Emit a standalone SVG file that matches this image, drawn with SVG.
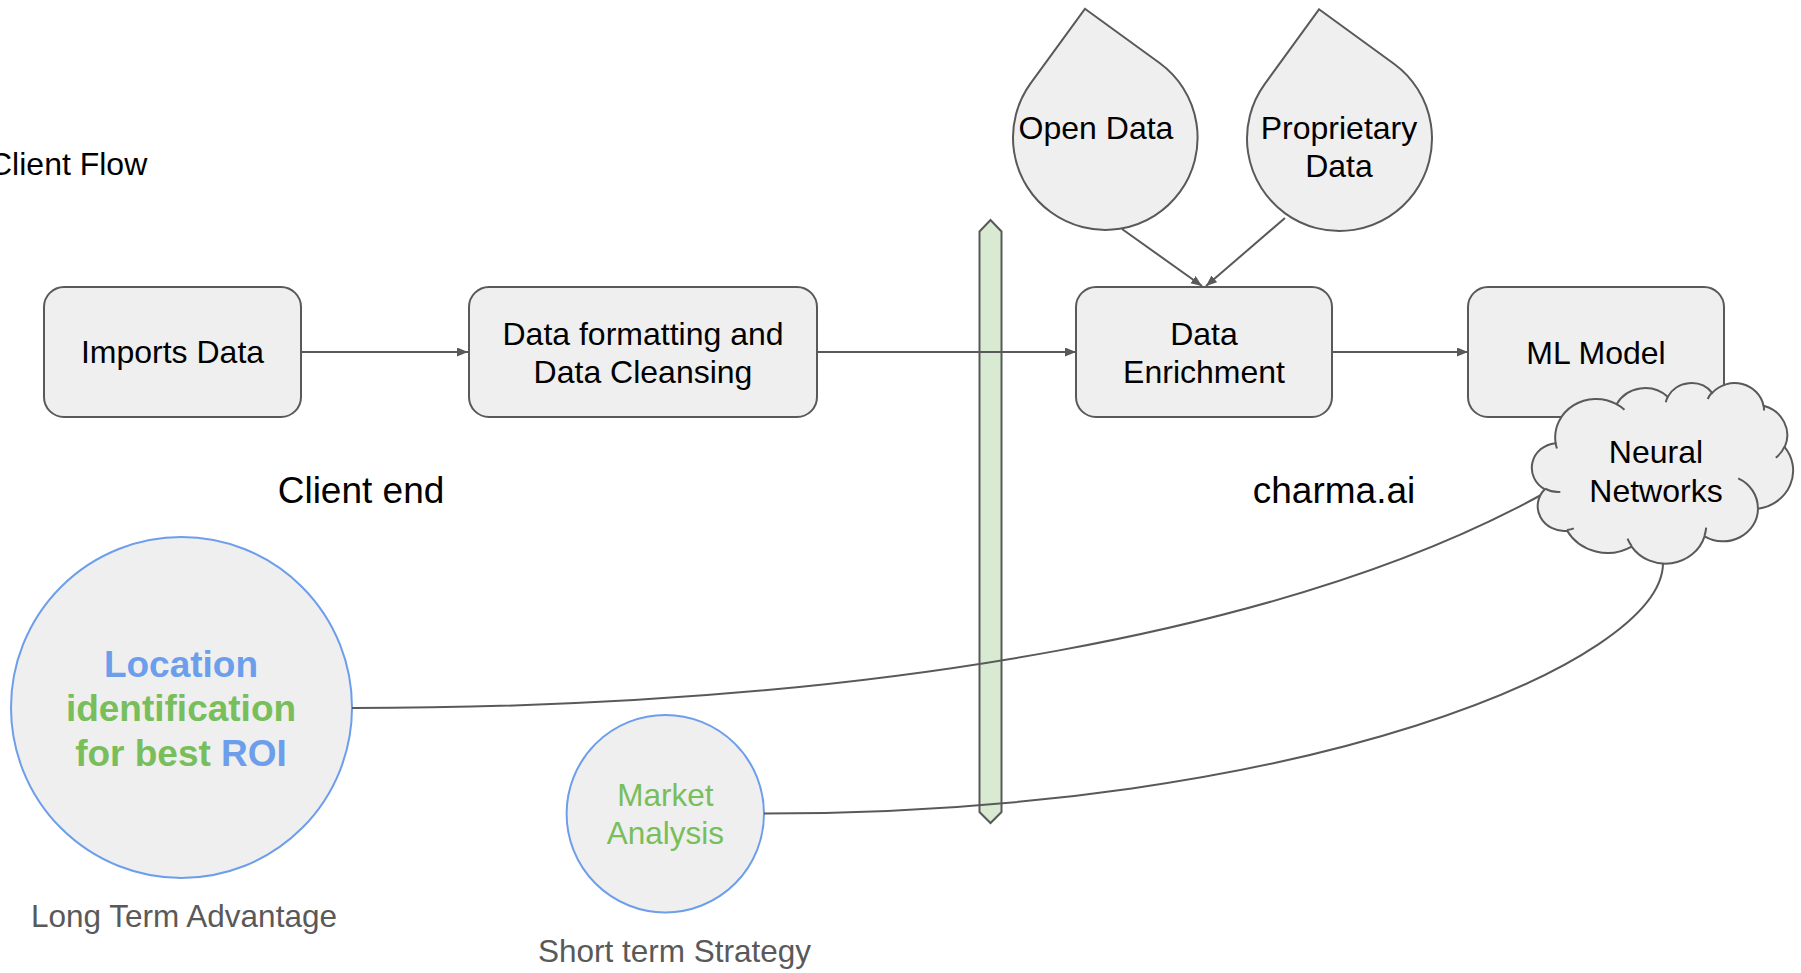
<svg xmlns="http://www.w3.org/2000/svg" width="1801" height="973" viewBox="0 0 1801 973">
  <defs>
    <style>
      text { font-family: "Liberation Sans", Arial, sans-serif; fill: #000000; }
      .box { fill: #efefef; stroke: #595959; stroke-width: 2; }
      .goal { fill: #efefef; stroke: #6d9eeb; stroke-width: 2; }
      .wire { fill: none; stroke: #595959; stroke-width: 2; }
      .lbl { font-size: 32px; text-anchor: middle; }
      .big { font-size: 37px; text-anchor: middle; }
      .note { font-size: 31.5px; text-anchor: middle; fill: #595959; }
      .blue { fill: #6d9eeb; }
      .green { fill: #78be5a; }
    </style>
    <marker id="arrow" markerUnits="userSpaceOnUse" markerWidth="12" markerHeight="10" refX="11" refY="4.5" orient="auto">
      <path d="M0,0 L11,4.5 L0,9 Z" fill="#595959"/>
    </marker>
  </defs>

  <rect width="1801" height="973" fill="#ffffff"/>

  <!-- free labels -->
  <text class="lbl" x="-11" y="175" style="text-anchor:start">Client Flow</text>
  <text class="big" x="361" y="503">Client end</text>
  <text class="big" x="1334" y="503">charma.ai</text>

  <!-- divider between client side and service side -->
  <g id="divider">
    <polygon points="979.5,231.5 990.5,220 1001.5,231.5 1001.5,812 990.5,823 979.5,812" fill="#d9ead3" stroke="#595959" stroke-width="2"/>
  </g>

  <g id="imports-data">
    <rect class="box" x="44" y="287" width="257" height="130" rx="20"/>
    <text class="lbl" x="172.5" y="363">Imports Data</text>
  </g>

  <g id="data-formatting">
    <rect class="box" x="469" y="287" width="348" height="130" rx="20"/>
    <text class="lbl" x="643" y="345">Data formatting and</text>
    <text class="lbl" x="643" y="383">Data Cleansing</text>
  </g>

  <g id="data-enrichment">
    <rect class="box" x="1076" y="287" width="256" height="130" rx="20"/>
    <text class="lbl" x="1204" y="345">Data</text>
    <text class="lbl" x="1204" y="383">Enrichment</text>
  </g>

  <g id="ml-model">
    <rect class="box" x="1468" y="287" width="256" height="130" rx="20"/>
    <text class="lbl" x="1596" y="364">ML Model</text>
  </g>

  <g id="open-data">
    <path class="box" d="M1084.9,8.8 L1159.6,63 A92.3,92.3 0 1 1 1030.6,83.4 Z"/>
    <text class="lbl" x="1096" y="139">Open Data</text>
  </g>

  <g id="proprietary-data">
    <path class="box" d="M1319,9.3 L1393.9,63.7 A92.5,92.5 0 1 1 1264.7,84.1 Z"/>
    <text class="lbl" x="1339" y="139">Proprietary</text>
    <text class="lbl" x="1339" y="177">Data</text>
  </g>

  <g id="location-roi">
    <circle class="goal" cx="181.5" cy="707.5" r="170.5"/>
    <text x="181" y="677" style="font-size:37px;font-weight:bold;text-anchor:middle" class="blue">Location</text>
    <text x="181" y="721" style="font-size:37px;font-weight:bold;text-anchor:middle" class="green">identification</text>
    <text x="181" y="766" style="font-size:37px;font-weight:bold;text-anchor:middle"><tspan class="green">for best </tspan><tspan class="blue">ROI</tspan></text>
    <text class="note" x="184" y="927">Long Term Advantage</text>
  </g>

  <g id="market-analysis">
    <circle class="goal" cx="665.3" cy="813.7" r="98.7"/>
    <text x="665.3" y="806" style="font-size:31.5px;text-anchor:middle" class="green">Market</text>
    <text x="665.3" y="843.5" style="font-size:31.5px;text-anchor:middle" class="green">Analysis</text>
    <text class="note" x="674.5" y="962">Short term Strategy</text>
  </g>

  <g id="connectors">
    <path class="wire" d="M301,352 L468,352" marker-end="url(#arrow)"/>
    <path class="wire" d="M817,352 L1076,352" marker-end="url(#arrow)"/>
    <path class="wire" d="M1332,352 L1468,352" marker-end="url(#arrow)"/>
    <path class="wire" d="M1122,229 L1202,286" marker-end="url(#arrow)"/>
    <path class="wire" d="M1285,218 L1206,286" marker-end="url(#arrow)"/>
    <path class="wire" d="M352,708 C887,708 1303,626 1541,495"/>
    <path class="wire" d="M764,813.5 C1303,813.5 1663,663 1663,563"/>
  </g>

  <!-- cloud outline drawn in a 43200-unit frame -->
  <g id="neural-networks">
    <g transform="translate(1532,382.5) scale(0.0060417,0.0041782)">
      <path d="M3900,14370 A6753,9190 0 0 1 14005.7,5202.5 A5333,7267 0 0 1 22459.1,3434.8 A4365,5945 0 0 1 29834.5,2480.2 A4857,6595 0 0 1 38319.6,5575.6 A5333,7273 0 0 1 41820.1,15459.5 A6775,9220 0 0 1 37408.1,30206.1 A5785,7867 0 0 1 28560.4,36817 A6752,9215 0 0 1 16486.5,39271.3 A7720,10543 0 0 1 5809.7,35476.9 A4360,5918 0 0 1 2117.7,25556.4 A4345,5945 0 0 1 3868,14513.1 Z" fill="#efefef" stroke="#595959" stroke-width="2" vector-effect="non-scaling-stroke"/>
      <path d="M4693,26177 A4345,5945 0 0 1 2159.4,25379.7 M6928,34899 A4360,5918 0 0 1 5819.4,35280.5 M16478,39090 A6752,9215 0 0 1 15808,37345.2 M28827,34751 A6752,9215 0 0 1 28560.4,36660.2 M34129,22954 A5785,7867 0 0 1 37380.7,30089.8 M41798,15354 A5333,7273 0 0 1 40350.4,18029.2 M38324,5426 A4857,6595 0 0 1 38400.4,6689.4 M29078,3952 A4857,6595 0 0 1 29819.9,2339.8 M22141,4720 A4365,5945 0 0 1 22500.2,3330.1 M14000,5192 A6753,9190 0 0 1 15302.5,6544 M4127,15789 A6753,9190 0 0 1 3900.4,14371.4" fill="none" stroke="#595959" stroke-width="2" vector-effect="non-scaling-stroke"/>
    </g>
    <text class="lbl" x="1656" y="463">Neural</text>
    <text class="lbl" x="1656" y="502">Networks</text>
  </g>
</svg>
